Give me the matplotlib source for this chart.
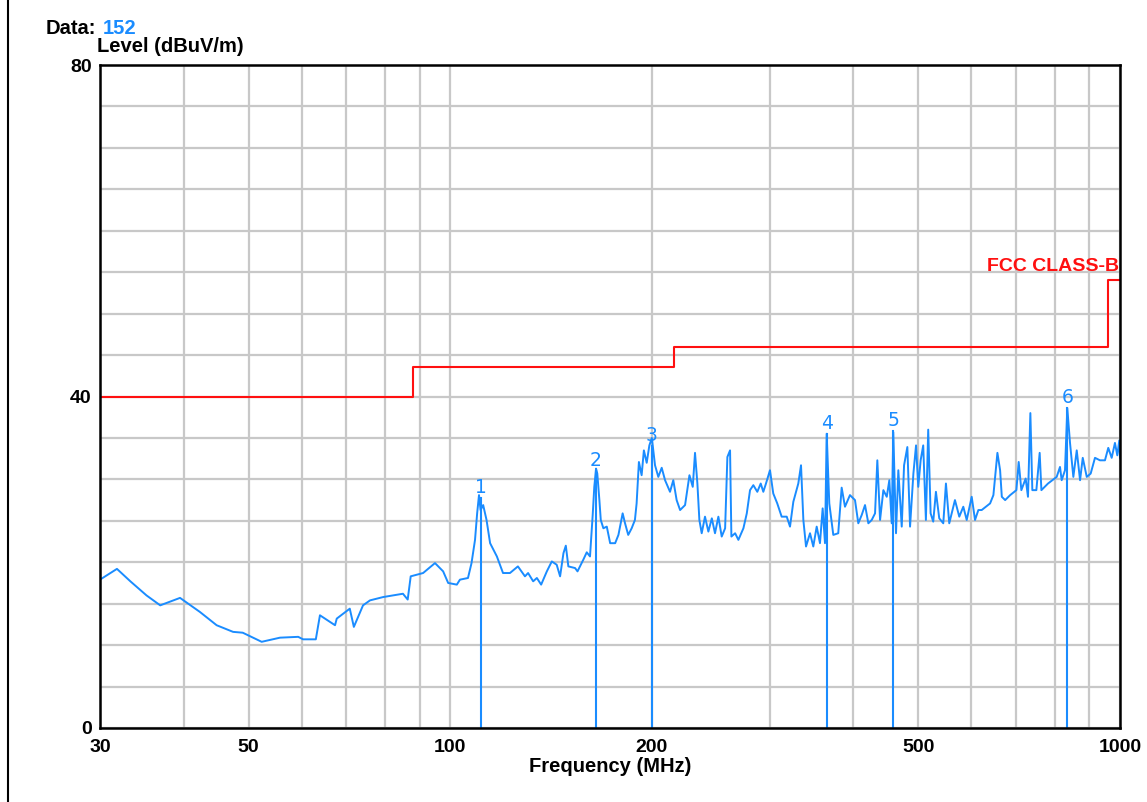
import matplotlib
matplotlib.use("Agg")
import matplotlib.pyplot as plt
from matplotlib.lines import Line2D

plt.rcParams['font.family'] = ['Liberation Sans', 'DejaVu Sans']

# ---- data ----
freq_mhz = [
    30.0, 31.8, 33.3, 35.2, 36.9, 39.5, 42.3, 44.8, 47.4, 49.0, 52.3, 55.7, 59.3, 60.3,
    63.0, 63.9, 67.3, 67.7, 70.8, 71.8, 74.1, 75.9, 79.4, 85.0, 86.4, 87.3, 91.1, 94.9,
    97.6, 99.3, 102.3, 103.4, 106.3, 107.6, 108.9, 109.7, 110.4, 111.0, 112.0, 113.3,
    114.7, 117.4, 119.9, 122.8, 126.2, 129.3, 130.7, 133.0, 134.7, 136.7, 139.4, 141.8,
    144.2, 145.9, 147.6, 148.8, 150.1, 153.6, 154.9, 158.0, 159.9, 161.7, 163.2, 164.1,
    165.1, 165.8, 167.0, 167.8, 169.3, 171.3, 173.3, 176.3, 178.3, 180.9, 182.4, 184.4,
    186.6, 188.7, 189.8, 191.3, 193.1, 194.6, 196.5, 198.3, 200.0, 202.2, 204.5, 206.9,
    209.3, 212.9, 215.3, 217.8, 220.4, 224.2, 227.6, 230.2, 232.0, 233.9, 235.5, 237.4,
    240.1, 242.9, 245.8, 248.5, 251.4, 254.3, 257.3, 259.3, 261.7, 262.9, 266.3, 269.3,
    274.0, 277.2, 280.3, 283.5, 287.4, 290.8, 293.4, 296.1, 300.2, 303.6, 307.8, 312.5,
    318.0, 321.6, 325.3, 330.9, 334.0, 336.7, 339.8, 344.5, 348.4, 352.5, 356.5, 359.8,
    362.7, 364.8, 368.1, 373.2, 379.6, 384.1, 388.5, 395.2, 402.1, 406.7, 411.5, 416.2,
    421.0, 425.9, 430.8, 434.2, 438.3, 443.3, 448.5, 452.5, 456.2, 458.7, 463.0, 466.7,
    472.2, 476.0, 481.4, 485.9, 491.5, 496.0, 499.8, 503.9, 508.4, 513.1, 517.2, 521.5,
    526.2, 531.1, 537.2, 544.7, 549.7, 556.0, 567.0, 575.5, 583.5, 590.4, 600.6, 607.5,
    614.5, 621.6, 639.8, 647.1, 656.1, 662.2, 666.1, 673.8, 685.5, 700.3, 705.9, 712.4,
    723.0, 728.8, 734.8, 739.8, 750.1, 758.7, 763.2, 780.8, 804.4, 813.6, 818.3, 827.7,
    834.3, 842.1, 851.8, 861.8, 871.7, 879.8, 892.0, 904.1, 917.6, 933.4, 949.6, 960.5,
    971.8, 982.8, 990.7, 997.6, 1000.0,
]
level_dbuv = [
    17.9, 19.2, 17.7, 16.0, 14.8, 15.7, 14.0, 12.4, 11.6, 11.5, 10.4, 10.9, 11.0, 10.7,
    10.7, 13.6, 12.4, 13.2, 14.4, 12.2, 14.8, 15.4, 15.8, 16.2, 15.5, 18.3, 18.7, 19.9,
    18.9, 17.5, 17.3, 17.9, 18.1, 19.9, 22.7, 25.9, 28.1, 26.3, 26.9, 25.1,
    22.3, 20.7, 18.7, 18.7, 19.5, 18.3, 18.7, 17.7, 18.1, 17.3, 18.9, 20.1,
    19.7, 18.3, 21.1, 22.0, 19.5, 19.3, 18.9, 20.3, 21.2, 20.7, 25.7, 29.1,
    31.3, 30.7, 27.5, 25.1, 24.1, 24.3, 22.3, 22.3, 23.3, 25.9, 24.7, 23.3,
    24.1, 25.1, 27.1, 32.1, 30.5, 33.5, 32.0, 34.1, 35.0, 31.7, 30.3, 31.4,
    29.9, 28.5, 29.9, 27.5, 26.3, 26.9, 30.5, 29.1, 33.2, 29.5, 25.1, 23.5,
    25.5, 23.7, 25.3, 23.5, 25.5, 23.1, 24.1, 32.7, 33.5, 23.1, 23.5, 22.7,
    24.1, 25.9, 28.7, 29.3, 28.5, 29.5, 28.5, 29.5, 31.1, 28.3, 27.1, 25.5,
    25.5, 24.3, 27.3, 29.5, 31.7, 25.1, 21.9, 23.5, 21.9, 24.3, 22.3, 26.5,
    22.3, 35.5, 27.1, 23.3, 23.5, 29.0, 26.7, 28.1, 27.5, 24.7, 25.7, 26.9,
    24.7, 25.1, 25.9, 32.3, 25.1, 28.7, 27.9, 29.9, 24.7, 35.7, 23.5, 31.1,
    24.3, 31.7, 33.9, 24.3, 30.7, 34.1, 29.1, 32.3, 34.1, 25.1, 36.0, 25.9,
    24.9, 28.5, 25.3, 24.7, 29.5, 24.7, 27.5, 25.5, 26.7, 25.1, 27.9, 25.1,
    26.3, 26.3, 27.1, 28.1, 33.2, 31.1, 27.9, 27.5, 28.1, 28.7, 32.1, 28.7,
    30.1, 27.9, 38.0, 28.7, 28.7, 33.2, 28.7, 29.5, 30.3, 31.5, 29.9, 31.1,
    38.6, 34.4, 30.3, 33.5, 29.9, 32.6, 30.3, 30.7, 32.6, 32.3, 32.3, 33.8,
    32.6, 34.4, 32.9, 34.7, 32.6,
]

limit_freq = [30, 88, 88, 216, 216, 960, 960, 1000]
limit_level = [40, 40, 43.5, 43.5, 46, 46, 54, 54]

marker_labels = ["1", "2", "3", "4", "5", "6"]
marker_freq = [111.0, 165.1, 200.0, 364.8, 458.7, 834.3]
marker_level = [27.8, 31.0, 34.0, 35.5, 35.8, 38.6]

x_ticks = [30, 50, 100, 200, 500, 1000]
x_minor = [40, 60, 70, 80, 90, 300, 400, 600, 700, 800, 900]
y_ticks = [0, 40, 80]
y_grid = list(range(0, 81, 5))

BLUE = "#1a8cff"
RED = "#ff1010"

fig = plt.figure(figsize=(11.47, 8.02), dpi=100)
ax = fig.add_axes([100/1147, 1-728/802, 1020/1147, 663/802])

ax.set_xscale("log")
ax.set_xlim(30, 1000)
ax.set_ylim(0, 80)

for g in x_ticks + x_minor:
    ax.axvline(g, color="#c8c8c8", lw=1.6, zorder=0)
for g in y_grid:
    ax.axhline(g, color="#c8c8c8", lw=1.6, zorder=0)

ax.plot(freq_mhz, level_dbuv, color=BLUE, lw=1.4, zorder=3)
ax.plot(limit_freq, limit_level, color=RED, lw=1.5, zorder=2)

for lab, f, lv in zip(marker_labels, marker_freq, marker_level):
    ax.plot([f, f], [0, lv], color=BLUE, lw=1.5, zorder=3)
    ax.text(f, lv + 0.1, lab, color=BLUE, fontsize=13.5, ha="center", va="bottom",
            family="DejaVu Sans", zorder=4)

ax.text(995, 54.7, "FCC CLASS-B", color=RED, fontsize=14, fontweight="bold",
        ha="right", va="bottom")

ax.set_xticks(x_ticks)
ax.set_xticklabels([str(t) for t in x_ticks], fontsize=14, fontweight="bold")
ax.set_xticks([], minor=True)
ax.set_yticks(y_ticks)
ax.set_yticklabels([str(t) for t in y_ticks], fontsize=14, fontweight="bold")
ax.tick_params(axis="x", length=0, pad=8)
ax.tick_params(axis="y", length=0, pad=6)

for sp in ax.spines.values():
    sp.set_linewidth(1.8)
    sp.set_color("black")
    sp.set_zorder(5)

ax.set_xlabel("Frequency (MHz)", fontsize=14.5, fontweight="bold", labelpad=1)

fig.text(97/1147, 1-46/802, "Level (dBuV/m)", fontsize=14.5, fontweight="bold",
         ha="left", va="center")
fig.text(46/1147, 1-28/802, "Data:", fontsize=14.5, fontweight="bold",
         ha="left", va="center")
fig.text(103/1147, 1-28/802, "152", fontsize=14.5, fontweight="bold", color=BLUE,
         ha="left", va="center")

fig.add_artist(Line2D([8/1147, 8/1147], [0, 1], color="black", lw=1.5))

fig.savefig("out.png", dpi=100)
